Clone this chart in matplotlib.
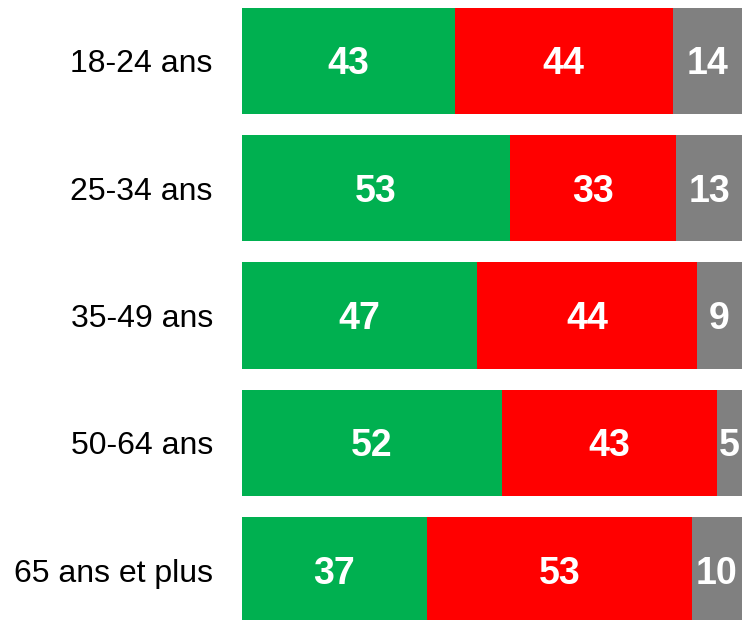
import matplotlib
matplotlib.use("Agg")
import matplotlib.pyplot as plt
import numpy as np

plt.rcParams['font.family'] = ['Liberation Sans', 'DejaVu Sans']

categories = ["18-24 ans", "25-34 ans", "35-49 ans", "50-64 ans", "65 ans et plus"]
green_vals = [43, 53, 47, 52, 37]
red_vals = [44, 33, 44, 43, 53]
grey_vals = [14, 13, 9, 5, 10]

colors = ["#00B050", "#FF0000", "#808080"]
series = [green_vals, red_vals, grey_vals]

fig = plt.figure(figsize=(7.42, 6.2), dpi=100)
ax = fig.add_axes([242/742, 0.0, 1 - 242/742, 1.0])

vfs = 27
cap_pt = 0.716 * vfs

y = np.arange(len(categories))
totals = np.array(green_vals) + np.array(red_vals) + np.array(grey_vals)
left = np.zeros(len(categories))
for vals, col in zip(series, colors):
    vals = np.array(vals, dtype=float)
    w = vals / totals * 100
    ax.barh(y, w, left=left, height=0.835, color=col, edgecolor='none')
    for yi, li, wi, v in zip(y, left, w, vals):
        ax.annotate(f"{int(v)}", xy=(li + wi / 2, yi), xytext=(0, -cap_pt / 2),
                    textcoords='offset points', ha='center', va='baseline',
                    color='white', fontsize=vfs, fontweight='bold')
    left = left + w

ax.set_xlim(0, 100)
ax.set_ylim(4.391, -0.479)
ax.set_yticks(y)
ax.set_yticklabels(categories, fontsize=23)
ax.tick_params(axis='y', length=0, pad=21)
ax.set_xticks([])
for s in ax.spines.values():
    s.set_visible(False)

fig.savefig("out.png", dpi=100)
